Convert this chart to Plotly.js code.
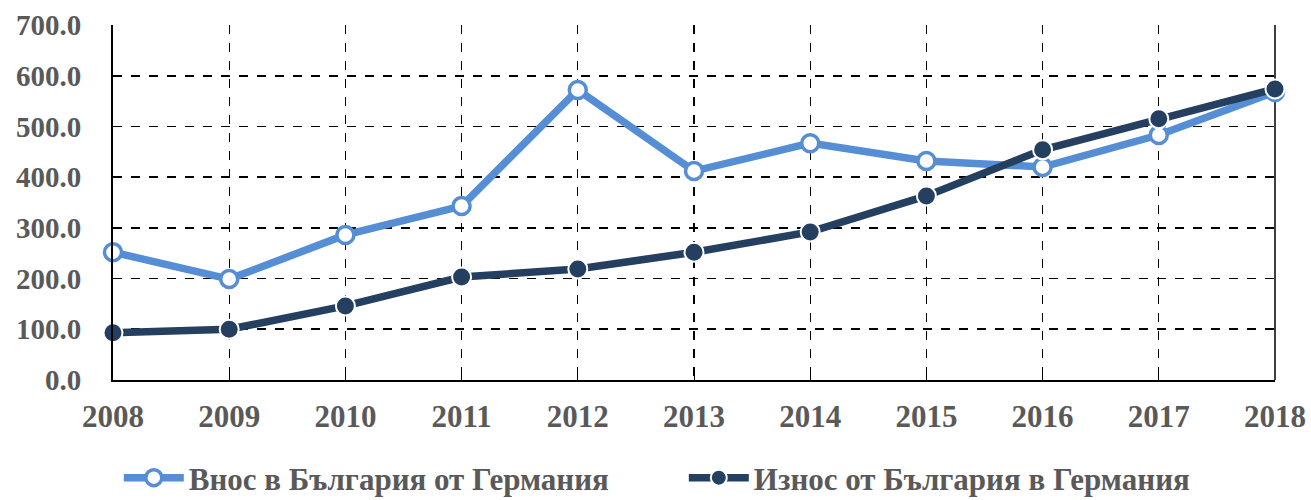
<!DOCTYPE html>
<html>
<head>
<meta charset="utf-8">
<script src="https://cdn.plot.ly/plotly-3.0.1.min.js"></script>
<style>html,body{margin:0;padding:0;background:#fff;}#chart{width:1311px;height:500px;}</style>
</head>
<body>
<div id="chart"></div>
<script>
var years = [2008, 2009, 2010, 2011, 2012, 2013, 2014, 2015, 2016, 2017, 2018];
var importsFromDE = [252, 199, 286, 343, 572, 412, 467, 432, 420, 483, 568];
var exportsToDE = [93, 100, 146, 203, 219, 252, 292, 363, 454, 515, 574];
var seriesNames = ["Внос в България от Германия", "Износ от България в Германия"];
var yTicks = [0, 100, 200, 300, 400, 500, 600, 700];

var fontFam = "Liberation Serif, Times New Roman, serif";
var gray = "#595959";

var traces = [
  {
    x: years, y: importsFromDE, name: seriesNames[0], type: "scatter", mode: "lines+markers",
    line: {color: "#558ED5", width: 7.5},
    marker: {symbol: "circle", size: 17, color: "#ffffff", line: {color: "#558ED5", width: 3.5}},
    cliponaxis: false
  },
  {
    x: years, y: exportsToDE, name: seriesNames[1], type: "scatter", mode: "lines+markers",
    line: {color: "#243F60", width: 7.5},
    marker: {symbol: "circle", size: 19, color: "#243F60", line: {color: "#ffffff", width: 2}},
    cliponaxis: false
  }
];

var layout = {
  width: 1311, height: 500,
  margin: {l: 113, r: 36, t: 25, b: 120, autoexpand: false},
  paper_bgcolor: "#ffffff", plot_bgcolor: "#ffffff",
  showlegend: true,
  legend: {
    orientation: "h",
    x: 0.005, xanchor: "left", y: -0.2, yanchor: "top",
    font: {family: fontFam, size: 31, color: gray, weight: "bold"},
    itemwidth: 60, entrywidth: 490, tracegroupgap: 0
  },
  xaxis: {
    type: "linear", range: [2008, 2018], tickvals: years, ticktext: years.map(String),
    showgrid: true, gridcolor: "#000000", griddash: "dash", gridwidth: 1.3,
    showline: true, linecolor: "#000000", linewidth: 2,
    ticks: "inside", ticklen: 5, tickcolor: "#000000",
    tickfont: {family: fontFam, size: 31, color: gray, weight: "bold"},
    ticklabelstandoff: 8, zeroline: false, fixedrange: true
  },
  yaxis: {
    range: [0, 700], tickvals: yTicks, ticktext: yTicks.map(function(v){return v.toFixed(1);}),
    showgrid: true, gridcolor: "#000000", griddash: "dash", gridwidth: 1.6,
    showline: true, linecolor: "#000000", linewidth: 2,
    ticks: "", tickfont: {family: fontFam, size: 29, color: gray, weight: "bold"},
    ticklabelstandoff: 24, zeroline: false, fixedrange: true
  },
  shapes: [
    {type: "line", xref: "paper", yref: "paper", x0: 1, x1: 1, y0: 0, y1: 1,
     line: {color: "#000000", width: 1.5}, layer: "below"}
  ]
};

Plotly.newPlot("chart", traces, layout, {displayModeBar: false, staticPlot: true});
</script>
</body>
</html>
